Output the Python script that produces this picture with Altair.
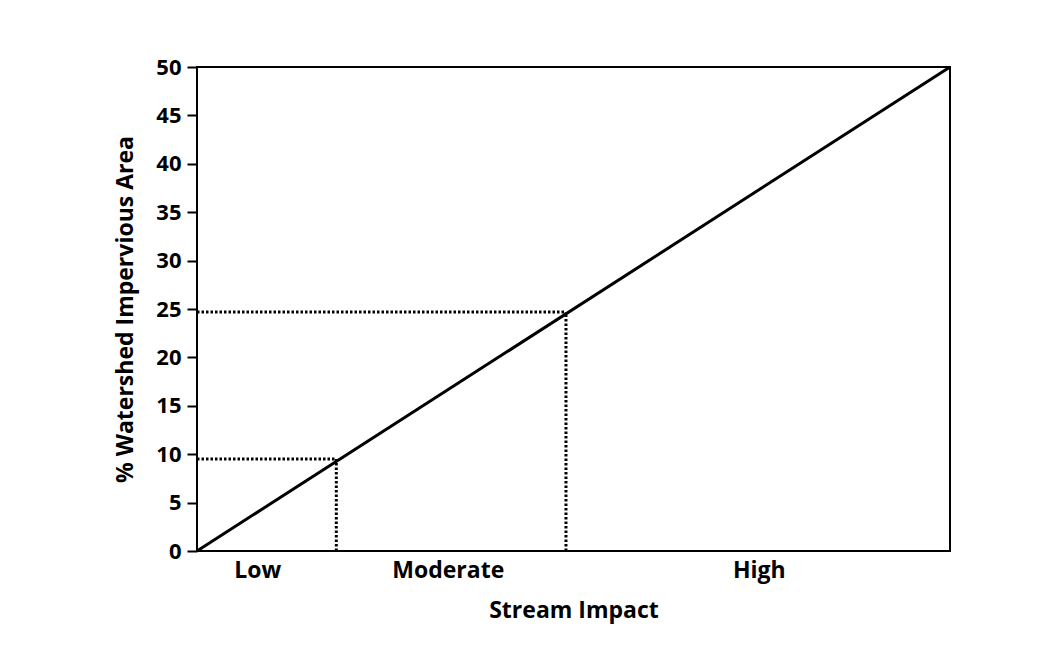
import altair as alt
import pandas as pd

# Main trend line (stream impact scale 0-100 vs % impervious)
impact_x = [0, 100]
impervious_y = [0, 50]

# Threshold guide points (dotted lines)
threshold_x = [18.5, 49.0]
threshold_y = [9.5, 24.7]

# Category labels along the x axis
label_positions = [8.0, 33.3, 74.6]
label_names = ["Low", "Moderate", "High"]

y_ticks = list(range(0, 55, 5))

FONT = "Open Sans"

line_df = pd.DataFrame({"x": impact_x, "y": impervious_y})

h_df = pd.DataFrame({"x": [0] * len(threshold_x), "x2": threshold_x,
                     "y": threshold_y})
v_df = pd.DataFrame({"x": threshold_x, "y": [0] * len(threshold_y),
                     "y2": threshold_y})

label_expr = " : ".join(
    f"datum.value == {p} ? '{n}'" for p, n in zip(label_positions, label_names)
) + " : ''"

x_scale = alt.Scale(domain=[0, 100], nice=False, zero=False)
y_scale = alt.Scale(domain=[0, 50], nice=False)

x_axis = alt.Axis(
    title="Stream Impact", values=label_positions, labelExpr=label_expr,
    ticks=False, domain=False, grid=False, labelFontSize=23,
    labelFontWeight="bold", labelFont=FONT, labelColor="black",
    labelPadding=8, titleFontSize=23, titleFont=FONT, titleFontWeight="bold",
    titleColor="black", titlePadding=17, labelFlush=False,
)
y_axis = alt.Axis(
    title="% Watershed Impervious Area", values=y_ticks, grid=False,
    tickSize=10, tickWidth=2, tickColor="black", domain=False,
    labelFontSize=22, labelFontWeight="bold", labelFont=FONT,
    labelColor="black", labelPadding=6, titleFontSize=23, titleFont=FONT,
    titleFontWeight="bold", titleColor="black", titlePadding=18,
)

line = alt.Chart(line_df).mark_line(color="black", strokeWidth=3).encode(
    x=alt.X("x:Q", scale=x_scale, axis=x_axis),
    y=alt.Y("y:Q", scale=y_scale, axis=y_axis),
)

h_rules = alt.Chart(h_df).mark_rule(
    color="black", strokeWidth=3, strokeDash=[2.5, 2]
).encode(x=alt.X("x:Q", scale=x_scale), x2="x2:Q",
         y=alt.Y("y:Q", scale=y_scale))

v_rules = alt.Chart(v_df).mark_rule(
    color="black", strokeWidth=3, strokeDash=[2.5, 2]
).encode(x=alt.X("x:Q", scale=x_scale),
         y=alt.Y("y:Q", scale=y_scale), y2="y2:Q")

chart = alt.layer(line, h_rules, v_rules).properties(
    width=753, height=484,
    autosize=alt.AutoSizeParams(type="none"),
    padding={"left": 189, "top": 59, "right": 90, "bottom": 90},
    background="white",
).configure_view(stroke="black", strokeWidth=2)

chart.save("out.html", embed_options={"renderer": "svg", "actions": False})
